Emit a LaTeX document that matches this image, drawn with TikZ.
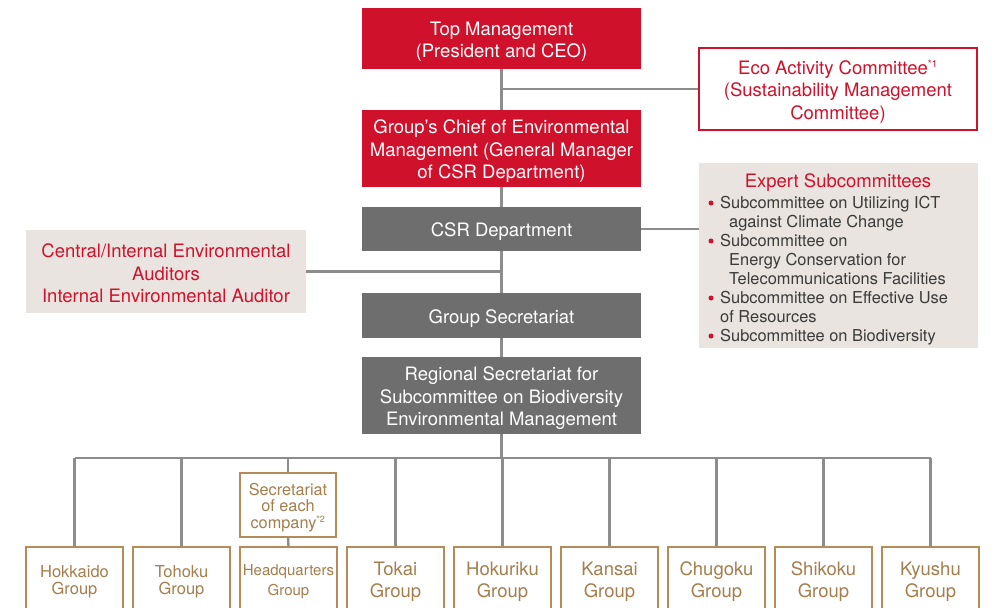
\documentclass[tikz,border=0pt]{standalone}
\usepackage{fontspec}
\setmainfont{TeX Gyre Heros}
\definecolor{cred}{HTML}{D0112B}
\definecolor{cgray}{HTML}{6E6E6E}
\definecolor{cline}{HTML}{8C8C8C}
\definecolor{cbeige}{HTML}{E9E4DF}
\definecolor{ctan}{HTML}{B58C58}
\definecolor{ctantext}{HTML}{A47E4C}
\definecolor{cdark}{HTML}{3A3A3A}
\newcommand\liftline{\rule{0pt}{1.05em}}
\tikzset{
  big/.style={font=\fontsize{18.5}{22.5}\selectfont},
  redbox/.style={big, fill=cred, text=white, align=center, inner sep=0pt, minimum width=279pt},
  graybox/.style={big, fill=cgray, text=white, align=center, inner sep=0pt, minimum width=279pt},
  ecobox/.style={big, draw=cred, line width=1.4pt, fill=white, text=cred, align=center, inner sep=0pt, minimum width=278pt, minimum height=82pt},
  beigebox/.style={fill=cbeige, inner sep=0pt},
  grpbox/.style={draw=ctan, line width=1.4pt, fill=white, text=ctantext, align=center, inner sep=0pt, minimum width=97pt, minimum height=64pt},
  conn/.style={draw=cline, line width=2.4pt},
  item/.style={font=\fontsize{16.4}{19}\selectfont, text=cdark, anchor=base west, inner sep=0pt},
  dot/.style={circle, fill=cred, inner sep=0pt, minimum size=5pt},
}
\begin{document}
\begin{tikzpicture}[x=1pt,y=-1pt]
\useasboundingbox (0,0) rectangle (994,608);
\clip (0,0) rectangle (994,608);

% main column
\node[redbox, minimum height=61pt] (top) at (501.5,38.5) {\liftline Top Management\\(President and CEO)};
\node[redbox, minimum height=77pt] (chief) at (501.5,148.5) {\liftline Group’s Chief of Environmental\\Management (General Manager\\of CSR Department)};
\node[graybox, minimum height=44pt] (csr) at (501.5,229) {\liftline CSR Department};
\node[graybox, minimum height=45pt] (gsec) at (501.5,315.5) {\liftline Group Secretariat};
\node[graybox, minimum height=77pt] (reg) at (501.5,395.5) {\liftline Regional Secretariat for\\Subcommittee on Biodiversity\\Environmental Management};

% side boxes
\node[ecobox] (eco) at (838,89) {\liftline Eco Activity Committee\textsuperscript{\fontsize{10}{10}\selectfont *1}\\(Sustainability Management\\Committee)};
\node[beigebox, big, text=cred, align=center, minimum width=280pt, minimum height=83pt] (aud) at (166,271.5) {\rule{0pt}{0.95em}Central/Internal Environmental\\Auditors\\Internal Environmental Auditor};
\node[beigebox, minimum width=279pt, minimum height=185pt] (exp) at (838.5,255.5) {};
\node[big, text=cred, inner sep=0pt] (exph) at (838,182.5) {Expert Subcommittees};
\node[dot] (b1) at (711,203) {};
\node[item] (i1) at (720,208) {Subcommittee on Utilizing ICT};
\node[item] (i1b) at (729,227) {against Climate Change};
\node[dot] (b2) at (711,241) {};
\node[item] (i2) at (720,246) {Subcommittee on};
\node[item] (i2b) at (729,265) {Energy Conservation for};
\node[item] (i2c) at (729,284) {Telecommunications Facilities};
\node[dot] (b3) at (711,298) {};
\node[item] (i3) at (720,303) {Subcommittee on Effective Use};
\node[item] (i3b) at (720,322) {of Resources};
\node[dot] (b4) at (711,336) {};
\node[item] (i4) at (720,341) {Subcommittee on Biodiversity};

% group boxes
\node[grpbox, font=\fontsize{16.5}{17}\selectfont] (hok) at (74.5,579) {\liftline Hokkaido\\Group};
\node[grpbox, font=\fontsize{16.5}{17}\selectfont] (toh) at (181.5,579) {\liftline Tohoku\\Group};
\node[grpbox, font=\fontsize{15}{20}\selectfont] (hq) at (288.5,579) {\liftline Headquarters\\Group};
\node[grpbox, font=\fontsize{18.5}{21.5}\selectfont] (tok) at (395.5,579) {\liftline Tokai\\Group};
\node[grpbox, font=\fontsize{18.5}{21.5}\selectfont] (hku) at (502.5,579) {\liftline Hokuriku\\Group};
\node[grpbox, font=\fontsize{18.5}{21.5}\selectfont] (kan) at (609.5,579) {\liftline Kansai\\Group};
\node[grpbox, font=\fontsize{18.5}{21.5}\selectfont] (chu) at (716.5,579) {\liftline Chugoku\\Group};
\node[grpbox, font=\fontsize{18.5}{21.5}\selectfont] (shi) at (823.5,579) {\liftline Shikoku\\Group};
\node[grpbox, font=\fontsize{18.5}{21.5}\selectfont] (kyu) at (930.5,579) {\liftline Kyushu\\Group};
\node[grpbox, font=\fontsize{16.3}{16.5}\selectfont, minimum width=96pt] (sec) at (288,505) {\liftline Secretariat\\of each\\company\textsuperscript{\fontsize{9}{9}\selectfont *2}};

% connectors
\coordinate (bus) at (501.5,458);
\draw[conn] (top.south) -- (chief.north);
\draw[conn] (chief.south) -- (csr.north);
\draw[conn] (csr.south) -- (gsec.north);
\draw[conn] (gsec.south) -- (reg.north);
\draw[conn] (reg.south) -- (bus);
\draw[conn] (top.south |- eco.west) -- (eco.west);
\draw[conn] (csr.east) -- (csr.east -| exp.west);
\draw[conn] (aud.east) -- (aud.east -| top.south);
\draw[conn] (hok.north |- bus) -- (kyu.north |- bus);
\foreach \g in {hok,toh,tok,hku,kan,chu,shi,kyu}{
  \draw[conn] (\g.north |- bus) -- (\g.north);
}
\draw[conn] (sec.north |- bus) -- (sec.north);
\draw[conn] (sec.south) -- (hq.north);
\end{tikzpicture}
\end{document}
